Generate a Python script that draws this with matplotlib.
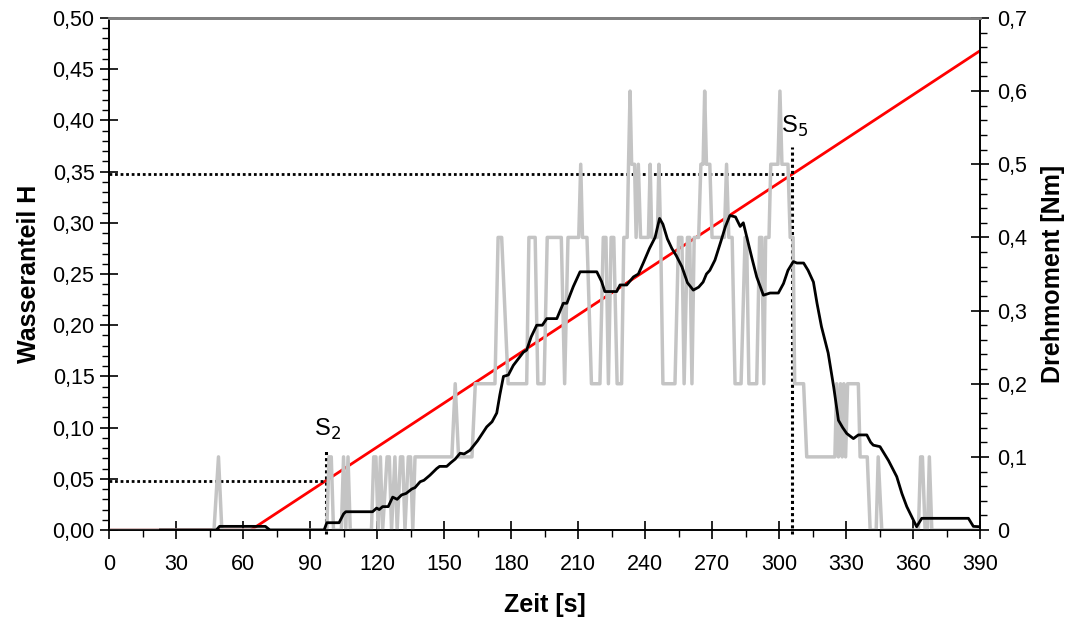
import matplotlib.pyplot as plt
from matplotlib.ticker import FixedLocator, FuncFormatter, MultipleLocator

plt.rcParams["font.family"] = ["Liberation Sans", "DejaVu Sans"]

# Wasseranteil H (left axis)
red_t = [0, 63.5, 390]
red_h = [0.0, 0.0, 0.468]

# Drehmoment, raw signal [Nm] (right axis)
gray_t = [0, 47, 49, 50.5, 97.5, 98.5, 99.5, 100.5, 104, 105, 106, 107, 108,
          117.5, 118.5, 119.5, 120.5, 121.5, 122.5, 124.5, 125.5, 126.5, 128, 129,
          130.5, 131.5, 132.5, 134, 135, 136, 137, 153.5, 155, 156.5, 162.5, 164,
          172.8, 174.2, 175.8, 178.7, 187, 188, 190.8, 192, 194.8, 196.2, 202.5,
          204, 205.5, 210.3, 211.2, 212, 214, 216, 219.8, 221.3, 222.5, 223.6,
          224.8, 226, 227.5, 229.5, 230.5, 232, 232.6, 233.3, 234, 235.3, 236,
          237, 238, 241.5, 242.3, 243, 245.5, 246.2, 247, 248, 253.4, 255, 256.5,
          257.5, 259, 260, 261, 262, 264, 265, 266, 266.7, 267.5, 269, 270, 275.5,
          276.5, 277.5, 279, 280.3, 283, 284.8, 285.5, 286.5, 290, 291.3, 292.3,
          293.2, 294, 295.5, 296.3, 299.5, 300.4, 301.3, 304, 305, 306.3, 307,
          311, 312.4, 325, 325.8, 326.6, 327.5, 328.3, 329, 329.8, 330.7, 331.4,
          335.5, 336.3, 339.5, 340.8, 343.5, 344.4, 346, 362.4, 363.4, 364.2,
          365.4, 366.5, 367.3, 368.4, 390]
gray_v = [0, 0, 0.1, 0, 0, 0.1, 0.1, 0, 0, 0.1, 0, 0.1, 0,
          0, 0.1, 0.1, 0, 0.1, 0, 0.1, 0.1, 0, 0.1, 0,
          0.1, 0.1, 0, 0.1, 0.1, 0, 0.1, 0.1, 0.2, 0.1, 0.1, 0.2,
          0.2, 0.4, 0.4, 0.2, 0.2, 0.4, 0.4, 0.2, 0.2, 0.4, 0.4,
          0.2, 0.4, 0.4, 0.5, 0.4, 0.4, 0.2, 0.2, 0.4, 0.4, 0.2,
          0.4, 0.4, 0.2, 0.2, 0.4, 0.4, 0.5, 0.6, 0.5, 0.5, 0.4,
          0.5, 0.4, 0.4, 0.5, 0.4, 0.4, 0.5, 0.4, 0.2, 0.2, 0.4, 0.4,
          0.2, 0.4, 0.4, 0.2, 0.4, 0.4, 0.5, 0.5, 0.6, 0.5, 0.5, 0.4, 0.4,
          0.5, 0.4, 0.4, 0.2, 0.2, 0.4, 0.4, 0.2, 0.2, 0.4, 0.4,
          0.2, 0.4, 0.4, 0.5, 0.5, 0.6, 0.5, 0.5, 0.4, 0.4, 0.2,
          0.2, 0.1, 0.1, 0.2, 0.1, 0.2, 0.1, 0.2, 0.1, 0.2, 0.2,
          0.2, 0.1, 0.1, 0, 0, 0.1, 0, 0, 0.1, 0.1,
          0, 0, 0.1, 0, 0]

# Drehmoment, smoothed [Nm] (right axis)
black_t = [23, 48, 49.5, 70, 72, 96.3, 97.5, 103, 105, 106, 118, 119.8, 121,
           122.5, 125, 127, 129, 131, 133, 135.5, 137, 139.3, 141, 143.7, 146.7,
           148, 151.2, 153, 155, 157.2, 159, 161.6, 165, 169.1, 171.5, 173.6, 175,
           176.6, 178.8, 181, 184, 185.5, 187, 189, 191.5, 194, 196, 200.5, 202,
           203.4, 205, 206.5, 207.9, 210.9, 218.4, 220.5, 222, 227.3, 228.8,
           231.8, 234.8, 237, 239.2, 242, 244.5, 246.5, 248, 250, 252, 254, 256.5,
           259, 261.6, 264, 266, 267.5, 269, 271.3, 274, 276, 278, 280.5, 282.6,
           284, 286, 288, 290, 293, 296, 299.7, 302, 304, 306.4, 308, 311, 313,
           315.4, 317, 319, 322, 324.5, 326.6, 328.5, 330.3, 333.3, 335.5, 339.3,
           341, 342.2, 345.2, 349, 352.7, 355, 357.2, 361.6, 363.9, 384.8, 387, 390]
black_v = [0, 0, 0.005, 0.005, 0, 0, 0.01, 0.01, 0.022, 0.025, 0.025, 0.03, 0.028,
           0.032, 0.032, 0.045, 0.042, 0.048, 0.05, 0.056, 0.058, 0.066, 0.068,
           0.075, 0.084, 0.087, 0.087, 0.092, 0.097, 0.105, 0.104, 0.109, 0.122,
           0.141, 0.148, 0.16, 0.185, 0.21, 0.212, 0.225, 0.237, 0.243, 0.246,
           0.264, 0.28, 0.28, 0.289, 0.289, 0.3, 0.31, 0.31, 0.322, 0.333, 0.353,
           0.353, 0.34, 0.326, 0.326, 0.335, 0.335, 0.346, 0.35, 0.365, 0.385,
           0.4, 0.426, 0.418, 0.398, 0.385, 0.375, 0.36, 0.338, 0.328, 0.332,
           0.339, 0.35, 0.355, 0.369, 0.395, 0.415, 0.43, 0.428, 0.415, 0.42,
           0.395, 0.37, 0.346, 0.321, 0.324, 0.324, 0.337, 0.355, 0.367, 0.365,
           0.365, 0.355, 0.339, 0.31, 0.278, 0.242, 0.195, 0.15, 0.14, 0.132,
           0.125, 0.13, 0.13, 0.12, 0.116, 0.114, 0.095, 0.073, 0.05, 0.032,
           0.0045, 0.016, 0.016, 0.005, 0.0045]

# switching points S2, S5: (label, time, H, top of marker line)
s_points = [("S$_2$", 97, 0.048, 0.078), ("S$_5$", 306, 0.348, 0.374)]


def comma(fmt):
    return FuncFormatter(lambda v, _: fmt.format(v).replace(".", ","))


def style_axis(ax, pad):
    ax.tick_params(which="major", direction="inout", length=13, width=1.2,
                   labelsize=15.5, color="black", pad=pad)
    ax.tick_params(which="minor", direction="out", length=5, width=1.0)


fig = plt.figure(figsize=(10.67, 6.24), dpi=100)
ax = fig.add_axes([0.1022, 0.1506, 0.8163, 0.8206])
ax2 = ax.twinx()

ax.plot(red_t, red_h, color="#ff0000", lw=2)
for name, t, h, top in s_points:
    ax.plot([0, t], [h, h], color="black", lw=2, ls=(0, (1, 1)))
    ax.plot([t, t], [-0.004, top], color="black", lw=2.2, ls=(0, (1, 1)),
            clip_on=False)
    ax.text(t + 1, top + 0.008, name, fontsize=17, ha="center", va="bottom")

ax2.plot(gray_t, gray_v, color="#c4c4c4", lw=2.5)
ax2.plot(black_t, black_v, color="black", lw=2)

ax.set_xlim(0, 390)
ax.set_ylim(0, 0.5)
ax2.set_ylim(0, 0.7)

ax.xaxis.set_major_locator(MultipleLocator(30))
ax.xaxis.set_minor_locator(MultipleLocator(15))
ax.yaxis.set_major_locator(MultipleLocator(0.05))
ax.yaxis.set_minor_locator(MultipleLocator(0.01))
ax.yaxis.set_major_formatter(comma("{:.2f}"))
ax2.yaxis.set_major_locator(FixedLocator([i / 10 for i in range(8)]))
ax2.yaxis.set_minor_locator(MultipleLocator(0.02))
ax2.yaxis.set_major_formatter(
    FuncFormatter(lambda v, _: "0" if v == 0 else "{:.1f}".format(v).replace(".", ",")))

style_axis(ax, 4)
style_axis(ax2, 6)
ax.tick_params(axis="x", which="major", pad=11)

for a in (ax, ax2):
    a.spines["top"].set_color("#808080")
    a.spines["top"].set_linewidth(2)
    for s in ("left", "right", "bottom"):
        a.spines[s].set_linewidth(1.2)

ax.set_xlabel("Zeit [s]", fontsize=18, fontweight="bold", labelpad=13)
ax.set_ylabel("Wasseranteil H", fontsize=18, fontweight="bold", labelpad=8)
ax2.set_ylabel("Drehmoment [Nm]", fontsize=18, fontweight="bold", labelpad=10)

fig.savefig("out.png", dpi=100)
